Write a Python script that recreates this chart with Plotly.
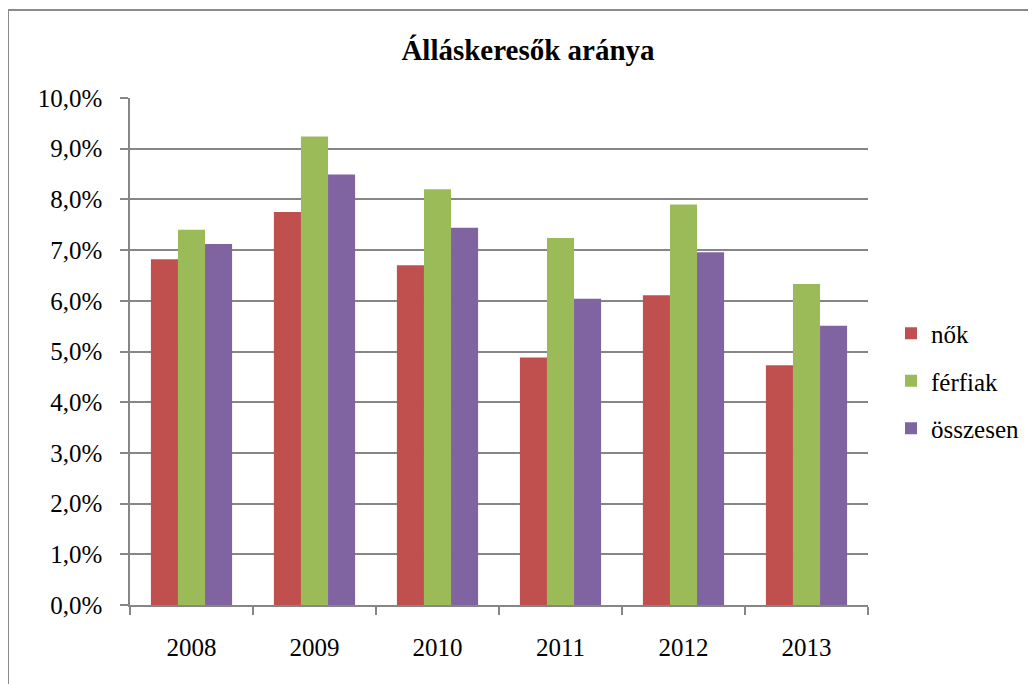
import plotly.graph_objects as go

years = ["2008", "2009", "2010", "2011", "2012", "2013"]
nok = [0.0682, 0.0775, 0.0670, 0.0488, 0.0611, 0.0473]
ferfiak = [0.0740, 0.0924, 0.0820, 0.0724, 0.0790, 0.0633]
osszesen = [0.0712, 0.0849, 0.0744, 0.0604, 0.0696, 0.0551]
series_names = ["nők", "férfiak", "összesen"]
colors = ["#C0504D", "#9BBB59", "#8064A2"]

OFF = 8  # default page body margin
W, H = 1036 - OFF, 684 - OFF
# plot area in page pixels: x 130..868, y 98..605
L, T = 130 - OFF, 98 - OFF
R, B = W - (868 - OFF), H - (605 - OFF)
pw, ph = W - L - R, H - T - B

fig = go.Figure()
for i, (name, vals) in enumerate(zip(series_names, [nok, ferfiak, osszesen])):
    fig.add_trace(go.Bar(x=years, y=vals, name=name, legendgroup=name,
                         marker=dict(color=colors[i], line=dict(width=0))))

font = "Liberation Serif"
grid = "#868686"

def px_to_paper_x(px):  # page px -> paper
    return (px - OFF - L) / pw

def px_to_paper_y(py):
    return (H - B - (py - OFF)) / ph

fig.update_layout(
    width=W, height=H,
    margin=dict(l=L, r=R, t=T, b=B, pad=0),
    paper_bgcolor="white", plot_bgcolor="white",
    separators=", ",
    barmode="group", bargap=0.34, bargroupgap=0,
    font=dict(family=font, size=24, color="black"),
    title=dict(text="<b>Álláskeresők aránya</b>", x=(528 - OFF) / W, xanchor="center",
               y=1 - (50 - OFF) / H, yanchor="middle", yref="container",
               font=dict(family=font, size=29, color="black")),
    showlegend=True,
    legend=dict(x=px_to_paper_x(891), xanchor="left", y=px_to_paper_y(381), yanchor="middle",
                font=dict(family=font, size=25, color="black"),
                tracegroupgap=12, bgcolor="rgba(0,0,0,0)", itemclick=False),
    xaxis=dict(type="category", showline=True, linecolor=grid, linewidth=1.5,
               ticks="outside", ticklen=8, tickcolor=grid, tickwidth=1.5,
               tickson="boundaries", showgrid=False, ticklabelstandoff=19,
               tickfont=dict(family=font, size=25, color="black")),
    yaxis=dict(range=[0, 0.1], dtick=0.01, tickformat=".1%", showline=True,
               linecolor=grid, linewidth=1.5, ticks="outside", ticklen=8,
               tickcolor=grid, tickwidth=1.5, showgrid=True, gridcolor=grid,
               gridwidth=1.6, zeroline=False, ticklabelstandoff=13,
               tickfont=dict(family=font, size=25, color="black")),
)

fig.add_shape(type="rect", xref="paper", yref="paper",
              x0=px_to_paper_x(8), x1=px_to_paper_x(1036 + 50),
              y0=px_to_paper_y(684 + 50), y1=px_to_paper_y(10),
              line=dict(color="#8a8a8a", width=2), fillcolor="rgba(0,0,0,0)", layer="below")

fig.write_html("out.html")
